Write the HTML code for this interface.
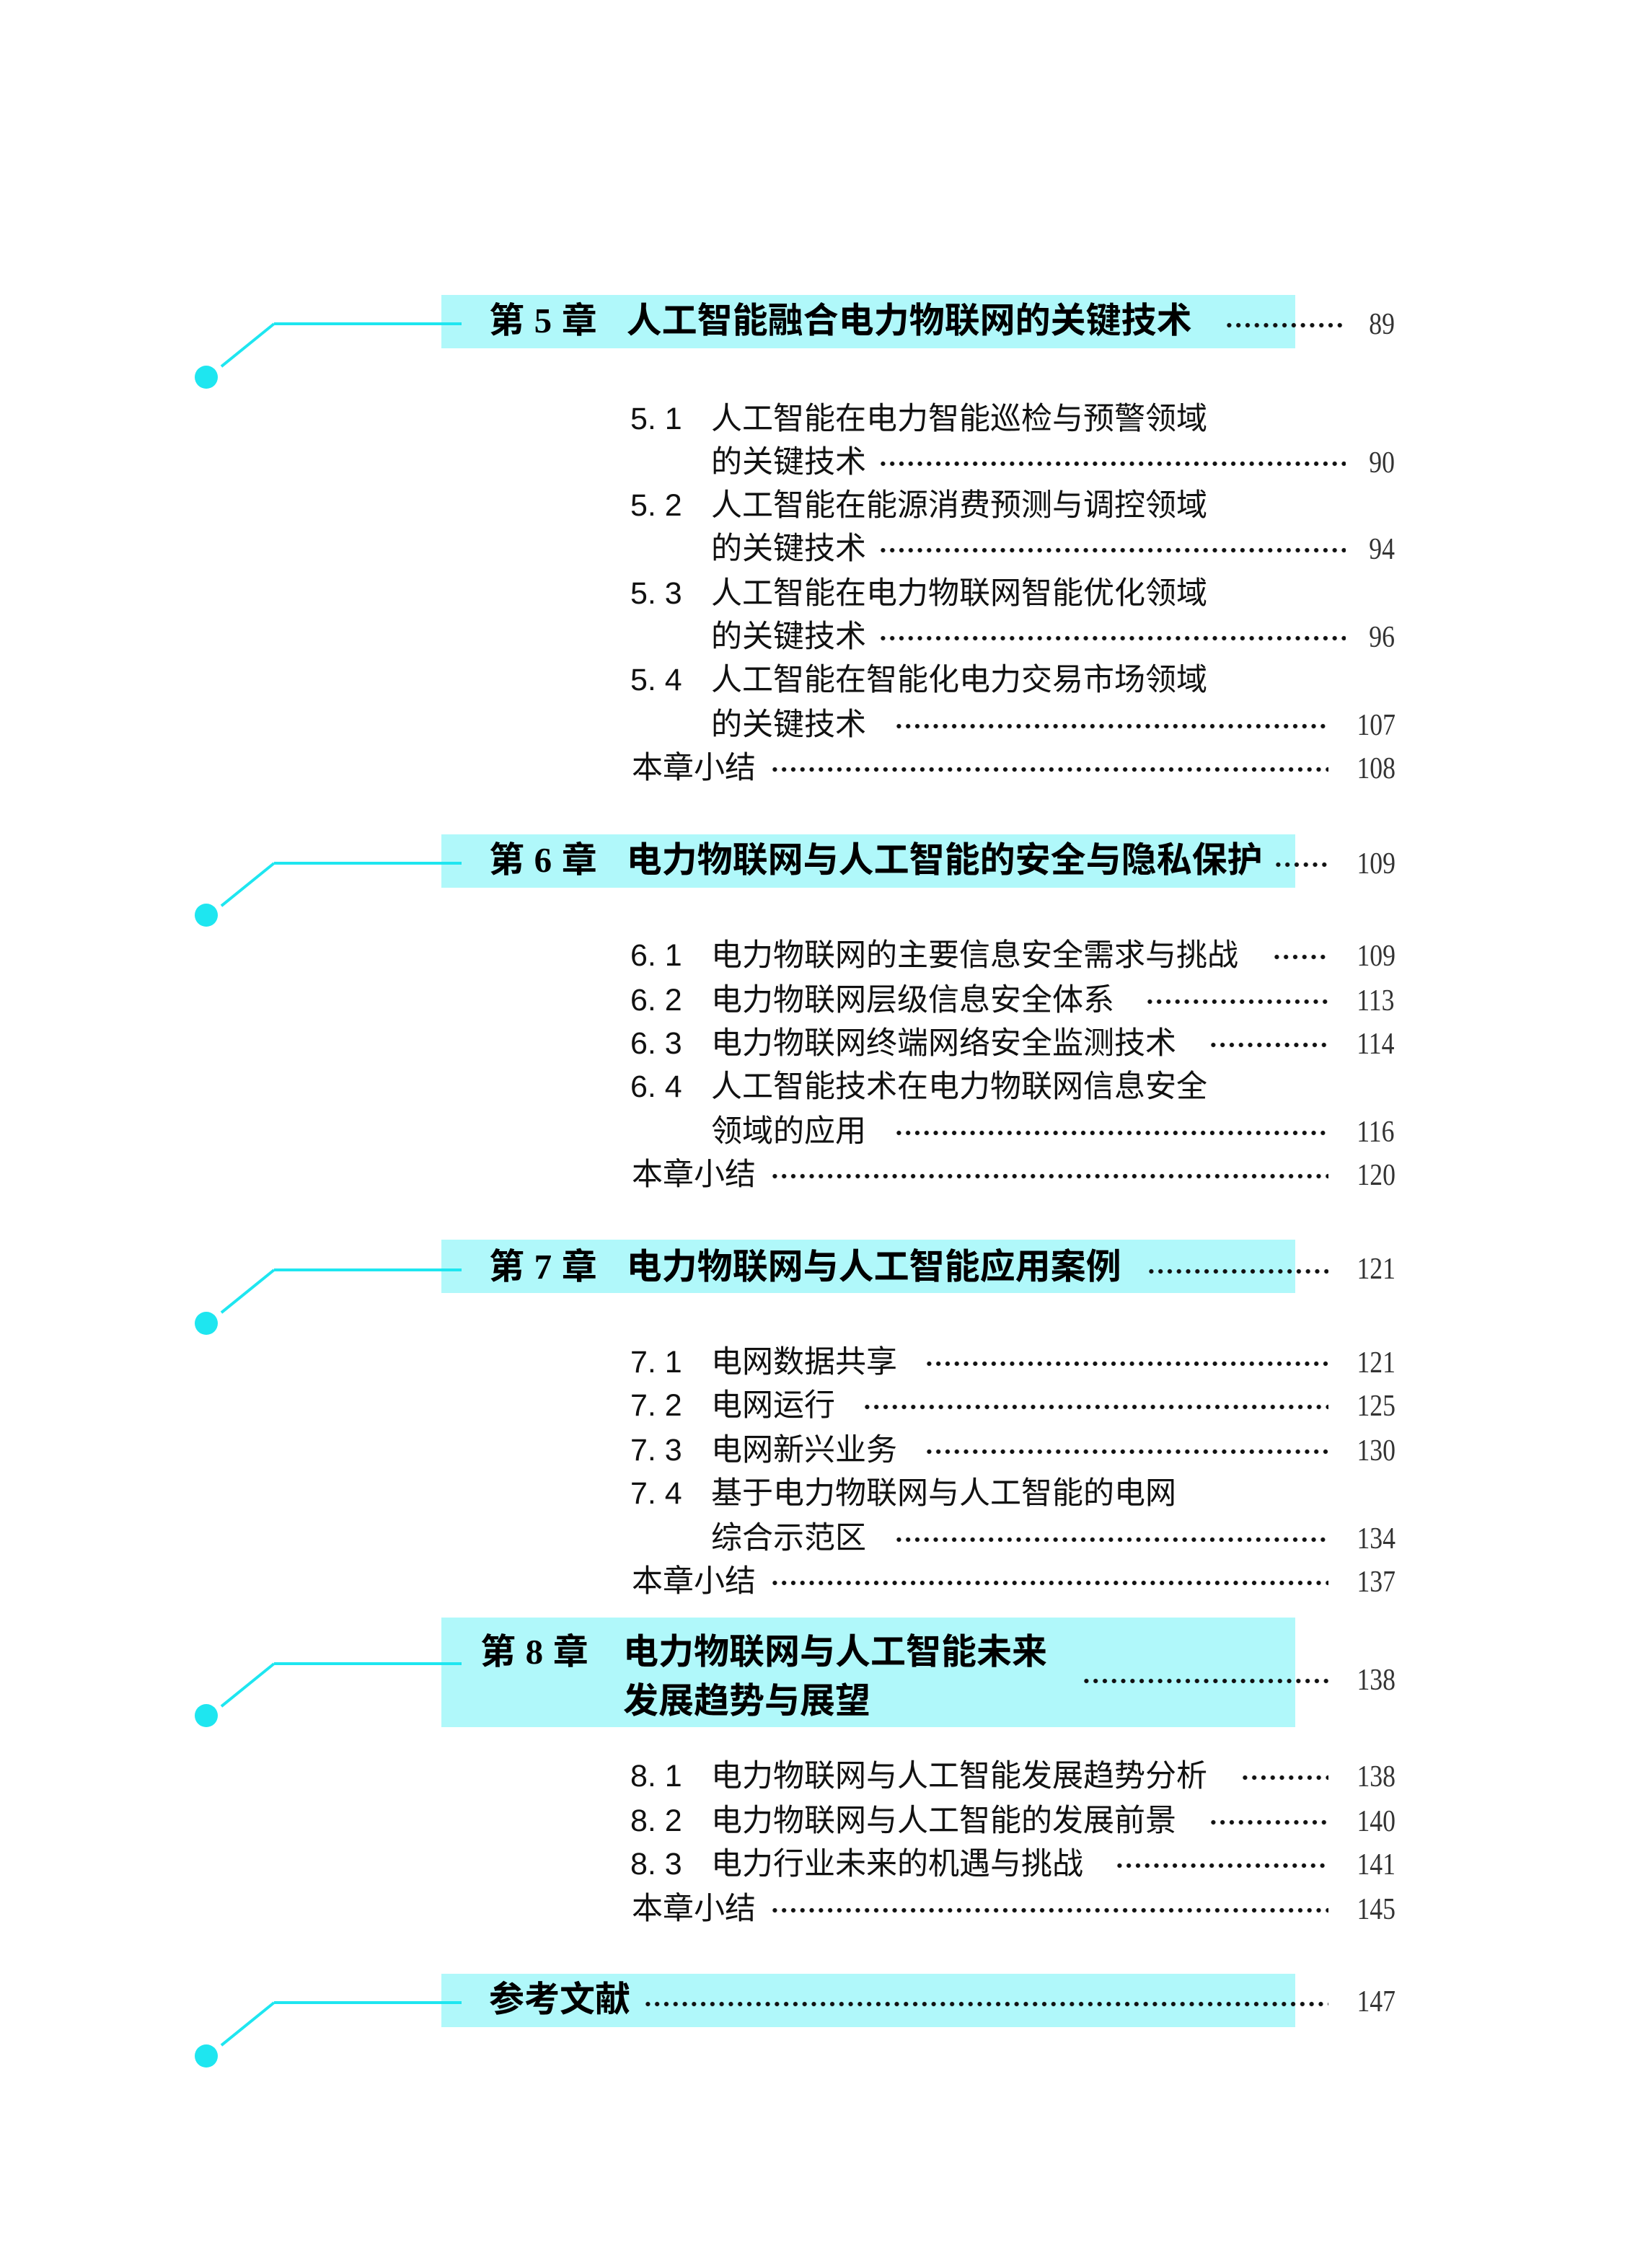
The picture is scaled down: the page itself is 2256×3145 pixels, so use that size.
<!DOCTYPE html>
<html><head><meta charset="utf-8">
<style>
html,body{margin:0;padding:0;background:#fff;}
body{width:2256px;height:3142px;overflow:hidden;position:relative;}
#p{position:absolute;left:0;top:3px;width:1128px;height:1571px;transform:scale(2);transform-origin:0 0;}
.box{position:absolute;left:306px;width:592px;background:#b0f8fa;}
.ln{position:absolute;height:2px;background:#1ee6f0;}
.dia{position:absolute;height:2px;background:#1ee6f0;transform-origin:0 50%;}
.dot{position:absolute;width:16px;height:16px;border-radius:50%;background:#1ee6f0;}
.t{position:absolute;height:30px;line-height:30px;white-space:nowrap;font-family:"Liberation Sans","Noto Sans CJK SC",sans-serif;font-size:21.5px;color:#111;}
.h{font-weight:bold;font-size:24.5px;color:#000;}
.num{font-family:"Liberation Serif",serif;}
.pg{position:absolute;right:161px;height:30px;line-height:30px;font-family:"Liberation Serif",serif;font-size:21px;color:#333;transform:scaleX(0.85);transform-origin:100% 50%;}
.ld{position:absolute;height:4px;background-image:radial-gradient(circle,#111 1.35px,transparent 1.7px);background-size:6.4px 4px;background-repeat:repeat-x;}
</style></head><body><div id="p">

<!-- chapter 5 -->
<div class="box" style="top:203px;height:37px"></div>
<div class="ln" style="left:190px;width:130px;top:222px"></div>
<div class="dia" style="left:190px;top:222px;width:47px;transform:rotate(141deg)"></div>
<div class="dot" style="left:135px;top:252px"></div>
<div class="t h" style="left:339px;top:207px">第 <span class="num">5</span> 章 &nbsp;&nbsp;人工智能融合电力物联网的关键技术</div>
<div class="ld" style="left:849px;width:84px;top:222px"></div>
<div class="pg" style="top:208px">89</div>

<div class="t" style="left:437px;top:274px">5. 1</div><div class="t" style="left:493px;top:274px">人工智能在电力智能巡检与预警领域</div>
<div class="t" style="left:493px;top:304px">的关键技术</div><div class="ld" style="left:609px;width:324px;top:318px"></div><div class="pg" style="top:304px">90</div>
<div class="t" style="left:437px;top:334px">5. 2</div><div class="t" style="left:493px;top:334px">人工智能在能源消费预测与调控领域</div>
<div class="t" style="left:493px;top:364px">的关键技术</div><div class="ld" style="left:609px;width:324px;top:378px"></div><div class="pg" style="top:364px">94</div>
<div class="t" style="left:437px;top:395px">5. 3</div><div class="t" style="left:493px;top:395px">人工智能在电力物联网智能优化领域</div>
<div class="t" style="left:493px;top:425px">的关键技术</div><div class="ld" style="left:609px;width:324px;top:439px"></div><div class="pg" style="top:425px">96</div>
<div class="t" style="left:437px;top:455px">5. 4</div><div class="t" style="left:493px;top:455px">人工智能在智能化电力交易市场领域</div>
<div class="t" style="left:493px;top:486px">的关键技术</div><div class="ld" style="left:620px;width:301px;top:500px"></div><div class="pg" style="top:486px">107</div>
<div class="t" style="left:438px;top:516px">本章小结</div><div class="ld" style="left:534px;width:387px;top:530px"></div><div class="pg" style="top:516px">108</div>

<!-- chapter 6 -->
<div class="box" style="top:577px;height:37px"></div>
<div class="ln" style="left:190px;width:130px;top:596px"></div>
<div class="dia" style="left:190px;top:596px;width:47px;transform:rotate(141deg)"></div>
<div class="dot" style="left:135px;top:625px"></div>
<div class="t h" style="left:339px;top:581px">第 <span class="num">6</span> 章 &nbsp;&nbsp;电力物联网与人工智能的安全与隐私保护</div>
<div class="ld" style="left:883px;width:38px;top:596px"></div>
<div class="pg" style="top:582px">109</div>

<div class="t" style="left:437px;top:646px">6. 1</div><div class="t" style="left:493px;top:646px">电力物联网的主要信息安全需求与挑战</div><div class="ld" style="left:882px;width:39px;top:660px"></div><div class="pg" style="top:646px">109</div>
<div class="t" style="left:437px;top:677px">6. 2</div><div class="t" style="left:493px;top:677px">电力物联网层级信息安全体系</div><div class="ld" style="left:794px;width:127px;top:691px"></div><div class="pg" style="top:677px">113</div>
<div class="t" style="left:437px;top:707px">6. 3</div><div class="t" style="left:493px;top:707px">电力物联网终端网络安全监测技术</div><div class="ld" style="left:838px;width:83px;top:721px"></div><div class="pg" style="top:707px">114</div>
<div class="t" style="left:437px;top:737px">6. 4</div><div class="t" style="left:493px;top:737px">人工智能技术在电力物联网信息安全</div>
<div class="t" style="left:493px;top:768px">领域的应用</div><div class="ld" style="left:620px;width:301px;top:782px"></div><div class="pg" style="top:768px">116</div>
<div class="t" style="left:438px;top:798px">本章小结</div><div class="ld" style="left:534px;width:387px;top:812px"></div><div class="pg" style="top:798px">120</div>

<!-- chapter 7 -->
<div class="box" style="top:858px;height:37px"></div>
<div class="ln" style="left:190px;width:130px;top:878px"></div>
<div class="dia" style="left:190px;top:878px;width:47px;transform:rotate(141deg)"></div>
<div class="dot" style="left:135px;top:908px"></div>
<div class="t h" style="left:339px;top:863px">第 <span class="num">7</span> 章 &nbsp;&nbsp;电力物联网与人工智能应用案例</div>
<div class="ld" style="left:795px;width:126px;top:878px"></div>
<div class="pg" style="top:863px">121</div>

<div class="t" style="left:437px;top:928px">7. 1</div><div class="t" style="left:493px;top:928px">电网数据共享</div><div class="ld" style="left:641px;width:280px;top:942px"></div><div class="pg" style="top:928px">121</div>
<div class="t" style="left:437px;top:958px">7. 2</div><div class="t" style="left:493px;top:958px">电网运行</div><div class="ld" style="left:598px;width:323px;top:972px"></div><div class="pg" style="top:958px">125</div>
<div class="t" style="left:437px;top:989px">7. 3</div><div class="t" style="left:493px;top:989px">电网新兴业务</div><div class="ld" style="left:641px;width:280px;top:1003px"></div><div class="pg" style="top:989px">130</div>
<div class="t" style="left:437px;top:1019px">7. 4</div><div class="t" style="left:493px;top:1019px">基于电力物联网与人工智能的电网</div>
<div class="t" style="left:493px;top:1050px">综合示范区</div><div class="ld" style="left:620px;width:301px;top:1064px"></div><div class="pg" style="top:1050px">134</div>
<div class="t" style="left:438px;top:1080px">本章小结</div><div class="ld" style="left:534px;width:387px;top:1094px"></div><div class="pg" style="top:1080px">137</div>

<!-- chapter 8 -->
<div class="box" style="top:1120px;height:76px"></div>
<div class="ln" style="left:190px;width:130px;top:1151px"></div>
<div class="dia" style="left:190px;top:1151px;width:47px;transform:rotate(141deg)"></div>
<div class="dot" style="left:135px;top:1180px"></div>
<div class="t h" style="left:333px;top:1130px">第 <span class="num">8</span> 章</div>
<div class="t h" style="left:432px;top:1130px">电力物联网与人工智能未来</div>
<div class="t h" style="left:432px;top:1164px">发展趋势与展望</div>
<div class="ld" style="left:750px;width:171px;top:1162px"></div>
<div class="pg" style="top:1148px">138</div>

<div class="t" style="left:437px;top:1215px">8. 1</div><div class="t" style="left:493px;top:1215px">电力物联网与人工智能发展趋势分析</div><div class="ld" style="left:860px;width:61px;top:1229px"></div><div class="pg" style="top:1215px">138</div>
<div class="t" style="left:437px;top:1246px">8. 2</div><div class="t" style="left:493px;top:1246px">电力物联网与人工智能的发展前景</div><div class="ld" style="left:838px;width:83px;top:1260px"></div><div class="pg" style="top:1246px">140</div>
<div class="t" style="left:437px;top:1276px">8. 3</div><div class="t" style="left:493px;top:1276px">电力行业未来的机遇与挑战</div><div class="ld" style="left:773px;width:148px;top:1290px"></div><div class="pg" style="top:1276px">141</div>
<div class="t" style="left:438px;top:1307px">本章小结</div><div class="ld" style="left:534px;width:387px;top:1321px"></div><div class="pg" style="top:1307px">145</div>

<!-- references -->
<div class="box" style="top:1367px;height:37px"></div>
<div class="ln" style="left:190px;width:130px;top:1386px"></div>
<div class="dia" style="left:190px;top:1386px;width:47px;transform:rotate(141deg)"></div>
<div class="dot" style="left:135px;top:1416px"></div>
<div class="t h" style="left:339px;top:1371px">参考文献</div>
<div class="ld" style="left:446px;width:475px;top:1386px"></div>
<div class="pg" style="top:1371px">147</div>

</div></body></html>
